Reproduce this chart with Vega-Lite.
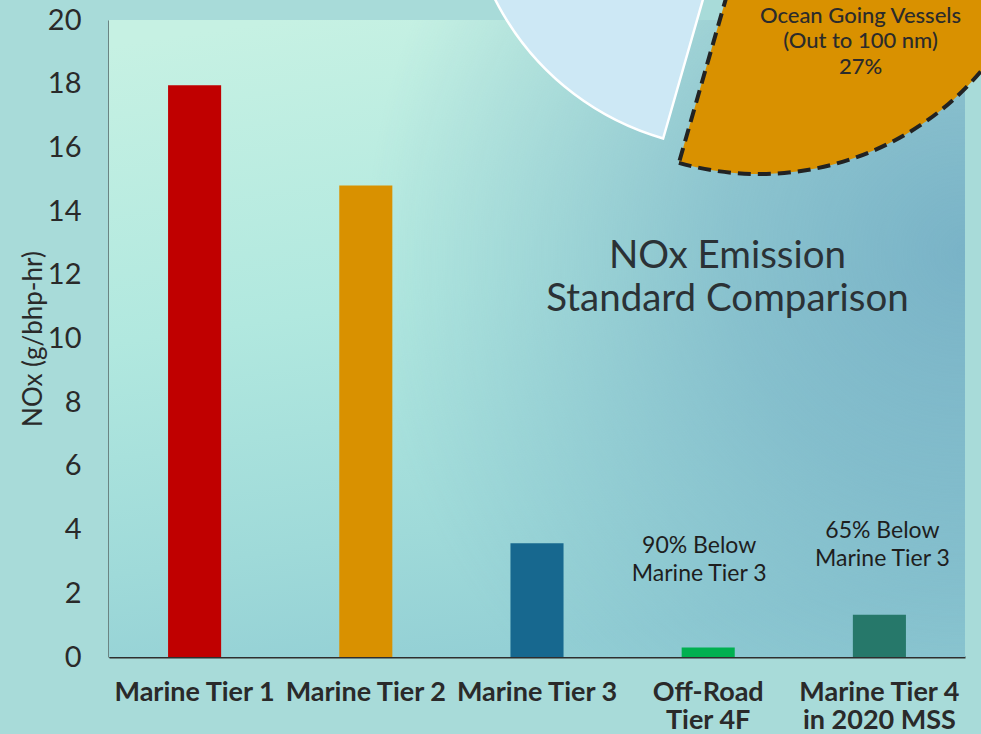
{
  "$schema": "https://vega.github.io/schema/vega-lite/v6.json",
  "width": 856,
  "height": 637,
  "autosize": {"type": "none"},
  "padding": {"left": 109, "top": 20, "right": 16, "bottom": 77},
  "background": "#a8dbd9",
  "config": {
    "font": "Lato",
    "view": {"stroke": null},
    "axis": {"domainColor": "#2e2e2e", "domainWidth": 2, "ticks": false, "grid": false, "labelColor": "#2a2a2a", "titleColor": "#2a2a2a"}
  },
  "datasets": {
    "standards": [
      {"standard": "Marine Tier 1", "nox": 17.95},
      {"standard": "Marine Tier 2", "nox": 14.8},
      {"standard": "Marine Tier 3", "nox": 3.57},
      {"standard": "Off-Road\nTier 4F", "nox": 0.3},
      {"standard": "Marine Tier 4\nin 2020 MSS", "nox": 1.33}
    ],
    "notes": [
      {"standard": "Off-Road\nTier 4F", "note": ["90% Below", "Marine Tier 3"]},
      {"standard": "Marine Tier 4\nin 2020 MSS", "note": ["65% Below", "Marine Tier 3"]}
    ],
    "pie": [
      {"segment": "Ocean Going Vessels (Out to 100 nm)", "share": 27},
      {"segment": "Other sources", "share": 73}
    ],
    "labels": [
      {"text": ["NOx Emission", "Standard Comparison"]}
    ],
    "pielabel": [
      {"text": ["Ocean Going Vessels", "(Out to 100 nm)", "27%"]}
    ]
  },
  "layer": [
    {
      "data": {"values": [{"bg": 1}]},
      "mark": {
        "type": "rect",
        "fill": {
          "gradient": "linear", "x1": 0.2, "y1": 0, "x2": 0.4, "y2": 1,
          "stops": [
            {"offset": 0, "color": "#c6f1e3"},
            {"offset": 0.45, "color": "#b1e8df"},
            {"offset": 0.8, "color": "#9fdad9"},
            {"offset": 1, "color": "#94d0d5"}
          ]
        }
      },
      "encoding": {}
    },
    {
      "data": {"values": [{"bg": 2}]},
      "mark": {
        "type": "rect",
        "fill": {
          "gradient": "radial", "x1": 1.0, "y1": 0.4, "r1": 0, "x2": 1.0, "y2": 0.4, "r2": 0.7,
          "stops": [
            {"offset": 0, "color": "rgba(112,170,195,0.85)"},
            {"offset": 0.4, "color": "rgba(112,170,195,0.6)"},
            {"offset": 1, "color": "rgba(112,170,195,0)"}
          ]
        }
      },
      "encoding": {}
    },
    {
      "layer": [
        {
          "data": {"name": "pie"},
          "mark": {"type": "arc", "outerRadius": 272, "stroke": "white", "strokeWidth": 2.5},
          "encoding": {
            "x": {"datum": 629, "type": "quantitative", "scale": {"domain": [0, 856]}, "axis": null},
            "y": {"datum": 24.49, "type": "quantitative", "scale": {"domain": [0, 20], "nice": false}, "title": "NOx (g/bhp-hr)"},
            "theta": {"field": "share", "type": "quantitative", "stack": true, "scale": {"domain": [0, 100], "range": [1.724, 8.007]}},
            "order": {"field": "share", "sort": "ascending"},
            "fill": {"condition": {"test": "datum.segment === 'Other sources'", "value": "#cde8f5"}, "value": "transparent"},
            "strokeOpacity": {"condition": {"test": "datum.segment === 'Other sources'", "value": 1}, "value": 0}
          }
        },
        {
          "data": {"name": "pie"},
          "mark": {"type": "arc", "outerRadius": 291, "stroke": "#222222", "strokeWidth": 4, "strokeDash": [13, 7]},
          "encoding": {
            "x": {"datum": 650, "type": "quantitative", "scale": {"domain": [0, 856]}, "axis": null},
            "y": {"datum": 24.3, "type": "quantitative", "scale": {"domain": [0, 20], "nice": false}, "title": "NOx (g/bhp-hr)"},
            "theta": {"field": "share", "type": "quantitative", "stack": true, "scale": {"domain": [0, 100], "range": [1.724, 8.007]}},
            "order": {"field": "share", "sort": "ascending"},
            "fill": {"condition": {"test": "datum.segment === 'Other sources'", "value": "transparent"}, "value": "#d99100"},
            "strokeOpacity": {"condition": {"test": "datum.segment === 'Other sources'", "value": 0}, "value": 1}
          }
        },
        {
          "data": {"name": "pielabel"},
          "mark": {"type": "text", "align": "center", "baseline": "alphabetic", "fontSize": 22, "lineHeight": 25.5, "color": "#2b2b2b", "fontWeight": 500},
          "encoding": {
            "x": {"datum": 751.5, "type": "quantitative", "scale": {"domain": [0, 856]}, "axis": null},
            "y": {"datum": 19.906, "type": "quantitative", "scale": {"domain": [0, 20], "nice": false}, "title": "NOx (g/bhp-hr)"},
            "text": {"field": "text"}
          }
        },
        {
          "data": {"name": "labels"},
          "mark": {"type": "text", "align": "center", "baseline": "alphabetic", "fontSize": 38.5, "lineHeight": 43, "color": "#2b3236"},
          "encoding": {
            "x": {"datum": 618.5, "type": "quantitative", "scale": {"domain": [0, 856]}, "axis": null},
            "y": {"datum": 12.21, "type": "quantitative", "scale": {"domain": [0, 20], "nice": false}, "title": "NOx (g/bhp-hr)"},
            "text": {"field": "text"}
          }
        }
      ]
    },
    {
      "layer": [
        {
          "data": {"name": "standards"},
          "mark": {"type": "bar"},
          "encoding": {
            "x": {
              "field": "standard", "type": "nominal",
              "scale": {"domain": ["Marine Tier 1", "Marine Tier 2", "Marine Tier 3", "Off-Road\nTier 4F", "Marine Tier 4\nin 2020 MSS"], "paddingInner": 0.69, "paddingOuter": 0.345},
              "axis": {"title": null, "labelAngle": 0, "labelFontSize": 27, "labelFontWeight": "bold", "labelPadding": 22, "labelLineHeight": 28.5, "labelOverlap": false, "labelLimit": 400, "labelExpr": "split(datum.label, '\\n')"}
            },
            "y": {
              "field": "nox", "type": "quantitative",
              "scale": {"domain": [0, 20], "nice": false},
              "title": "NOx (g/bhp-hr)",
              "axis": {"values": [0, 2, 4, 6, 8, 10, 12, 14, 16, 18, 20], "labelFontSize": 29, "labelPadding": 28, "titleFontSize": 26, "titleFontWeight": "normal", "titlePadding": 1}
            },
            "fill": {
              "field": "standard", "type": "nominal", "legend": null,
              "scale": {"domain": ["Marine Tier 1", "Marine Tier 2", "Marine Tier 3", "Off-Road\nTier 4F", "Marine Tier 4\nin 2020 MSS"], "range": ["#c00000", "#d99100", "#17688f", "#00b050", "#26786a"]}
            }
          }
        },
        {
          "data": {"name": "notes"},
          "transform": [{"filter": "datum.standard === 'Off-Road\\nTier 4F'"}],
          "mark": {"type": "text", "align": "center", "baseline": "alphabetic", "fontSize": 23, "lineHeight": 28, "color": "#1e1e1e", "dx": -9},
          "encoding": {
            "x": {"field": "standard", "type": "nominal"},
            "y": {"datum": 3.275, "type": "quantitative", "scale": {"domain": [0, 20], "nice": false}, "title": "NOx (g/bhp-hr)"},
            "text": {"field": "note"}
          }
        },
        {
          "data": {"name": "notes"},
          "transform": [{"filter": "datum.standard === 'Marine Tier 4\\nin 2020 MSS'"}],
          "mark": {"type": "text", "align": "center", "baseline": "alphabetic", "fontSize": 23, "lineHeight": 28, "color": "#1e1e1e", "dx": 3},
          "encoding": {
            "x": {"field": "standard", "type": "nominal"},
            "y": {"datum": 3.73, "type": "quantitative", "scale": {"domain": [0, 20], "nice": false}, "title": "NOx (g/bhp-hr)"},
            "text": {"field": "note"}
          }
        }
      ]
    }
  ],
  "resolve": {"scale": {"x": "independent"}, "axis": {"x": "independent"}}
}
